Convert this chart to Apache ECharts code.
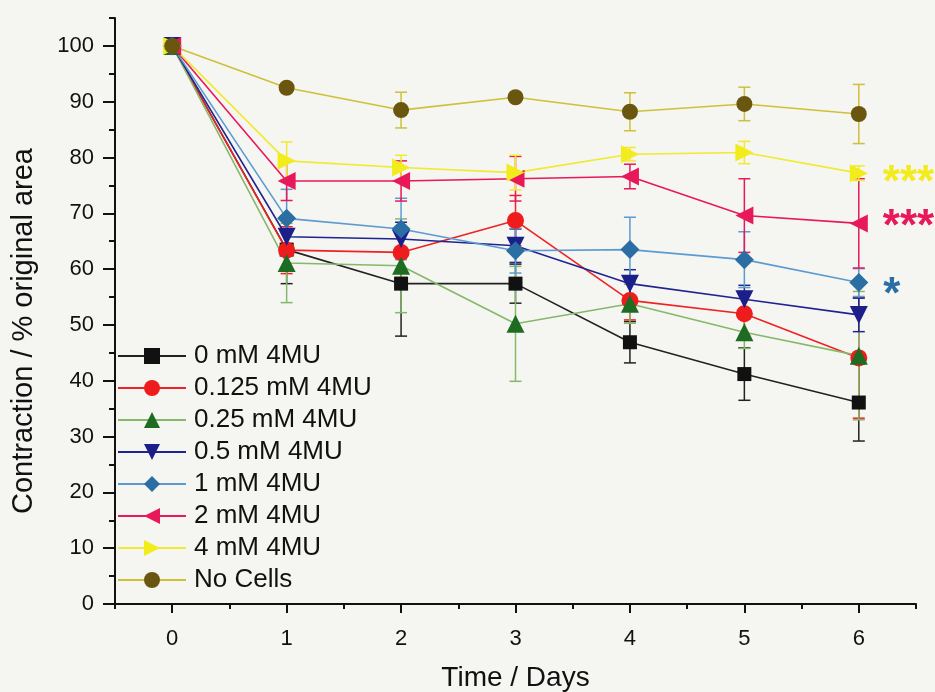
<!DOCTYPE html>
<html>
<head>
<meta charset="utf-8">
<script src="https://cdn.jsdelivr.net/npm/echarts@6/dist/echarts.min.js"></script>
<style>
html,body{margin:0;padding:0;background:#f5f5f2;}
#main{width:935px;height:692px;}
</style>
</head>
<body>
<div id="main"></div>
<script>
// ---- data ----
const days = [0, 1, 2, 3, 4, 5, 6];
const seriesNames = ['0 mM 4MU', '0.125 mM 4MU', '0.25 mM 4MU', '0.5 mM 4MU', '1 mM 4MU', '2 mM 4MU', '4 mM 4MU', 'No Cells'];
const mean0   = [100, 63.5, 57.4, 57.4, 46.9, 41.2, 36.1];
const err0    = [0, 6.1, 9.4, 3.5, 3.7, 4.7, 6.9];
const mean125 = [100, 63.4, 63.0, 68.7, 54.4, 52.0, 44.1];
const err125  = [0, 4.2, 4.5, 4.5, 3.5, 4.0, 10.8];
const mean25  = [100, 61.1, 60.6, 50.2, 53.8, 48.7, 44.5];
const err25   = [0, 7.1, 8.4, 10.3, 3.5, 2.9, 11.5];
const mean05  = [100, 65.8, 65.4, 64.2, 57.4, 54.6, 51.8];
const err05   = [0, 3.2, 3.0, 3.0, 2.5, 2.5, 3.0];
const mean1   = [100, 69.1, 67.2, 63.3, 63.5, 61.7, 57.6];
const err1    = [0, 5.2, 5.5, 4.0, 5.8, 5.0, 2.5];
const mean2   = [100, 75.8, 75.8, 76.2, 76.6, 69.6, 68.2];
const err2    = [0, 3.5, 3.6, 4.0, 2.2, 6.6, 8.0];
const mean4   = [100, 79.4, 78.2, 77.3, 80.6, 80.9, 77.2];
const err4    = [0, 3.4, 2.2, 3.1, 1.2, 2.0, 1.3];
const meanNC  = [100, 92.5, 88.5, 90.8, 88.2, 89.6, 87.8];
const errNC   = [0, 0.4, 3.2, 0.4, 3.4, 3.0, 5.3];
const yTickLabels = [0, 10, 20, 30, 40, 50, 60, 70, 80, 90, 100];
const yMinorTicks = [5, 15, 25, 35, 45, 55, 65, 75, 85, 95, 105];
const xTickLabels = [0, 1, 2, 3, 4, 5, 6];
const xMinorTicks = [-0.5, 0.5, 1.5, 2.5, 3.5, 4.5, 5.5, 6.5];
const significance = {'4 mM 4MU': '***', '2 mM 4MU': '***', '1 mM 4MU': '*'};

// ---- styles ----
const means = [mean0, mean125, mean25, mean05, mean1, mean2, mean4, meanNC];
const errs = [err0, err125, err25, err05, err1, err2, err4, errNC];
const markerColors = ['#111111', '#ee1c1c', '#1e6b22', '#1b1f8a', '#2b6ea4', '#e8195a', '#f2ec1c', '#6b5610'];
const lineColors   = ['#222222', '#ee2222', '#86b86a', '#1f2490', '#5b9bd0', '#e8195a', '#f0ea30', '#cfc03a'];
const symbols = ['rect', 'circle', 'triangle', 'triangle', 'diamond', 'triangle', 'triangle', 'circle'];
const symbolRot = [0, 0, 0, 180, 0, 90, -90, 0];
const symbolSizes = [14, 17, 18, 18, 19, 18, 18, 16];
const sigColors = {'4 mM 4MU': '#f2ec1c', '2 mM 4MU': '#e8195a', '1 mM 4MU': '#2b6ea4'};
const sigOffsets = {'4 mM 4MU': 11, '2 mM 4MU': 4, '1 mM 4MU': 13};

const FONT = 'Liberation Sans, Arial, sans-serif';
const series = [];

// error bars
seriesNames.forEach((name, i) => {
  series.push({
    type: 'custom',
    name: name + ' err',
    xAxisIndex: 0, yAxisIndex: 0,
    z: 1,
    silent: true,
    data: days.map((d, k) => [d, means[i][k], errs[i][k]]),
    renderItem: function (params, api) {
      const x = api.value(0), y = api.value(1), e = api.value(2);
      if (!e) return null;
      const top = api.coord([x, y + e]);
      const bot = api.coord([x, y - e]);
      const hw = 6;
      const st = {stroke: lineColors[i], lineWidth: 1.5};
      return {
        type: 'group',
        children: [
          {type: 'line', shape: {x1: top[0], y1: top[1], x2: bot[0], y2: bot[1]}, style: st},
          {type: 'line', shape: {x1: top[0] - hw, y1: top[1], x2: top[0] + hw, y2: top[1]}, style: st},
          {type: 'line', shape: {x1: bot[0] - hw, y1: bot[1], x2: bot[0] + hw, y2: bot[1]}, style: st}
        ]
      };
    }
  });
});

// lines with markers
seriesNames.forEach((name, i) => {
  const data = days.map((d, k) => [d, means[i][k]]);
  const s = {
    type: 'line',
    name: name,
    xAxisIndex: 0, yAxisIndex: 0,
    z: 3,
    data: data,
    symbol: symbols[i],
    symbolRotate: symbolRot[i],
    symbolSize: symbolSizes[i],
    showAllSymbol: true,
    itemStyle: {color: markerColors[i]},
    lineStyle: {color: lineColors[i], width: 1.6},
    emphasis: {disabled: true},
    animation: false
  };
  if (significance[name]) {
    const last = data.length - 1;
    s.data = data.map((p, k) => k === last ? {
      value: p,
      label: {
        show: true, position: 'right', distance: 15,
        formatter: significance[name],
        color: sigColors[name], fontSize: 44, fontWeight: 'bold', fontFamily: FONT,
        offset: [0, sigOffsets[name]]
      }
    } : p);
  }
  series.push(s);
});

const chart = echarts.init(document.getElementById('main'), null, {renderer: 'canvas'});
chart.setOption({
  backgroundColor: '#f5f5f2',
  animation: false,
  textStyle: {fontFamily: FONT},
  grid: {left: 115, right: 19, top: 18, bottom: 88, containLabel: false, outerBoundsMode: 'none'},
  legend: {
    data: seriesNames,
    orient: 'vertical',
    left: 112, top: 338,
    itemWidth: 68, itemHeight: 20,
    itemGap: 6,
    textStyle: {fontSize: 26, color: '#111', fontFamily: FONT, lineHeight: 24, padding: [0, 0, 0, 3]},
    selectedMode: false
  },
  xAxis: [{
    type: 'value', min: -0.5, max: 6.5,
    axisLine: {show: true, onZero: false, lineStyle: {color: '#111', width: 2}},
    axisTick: {show: true, length: 9, inside: false, customValues: xTickLabels, lineStyle: {color: '#111', width: 2}},
    axisLabel: {customValues: xTickLabels, fontSize: 22, color: '#111', margin: 24, fontFamily: FONT},
    splitLine: {show: false},
    name: 'Time / Days', nameLocation: 'middle', nameGap: 60,
    nameTextStyle: {fontSize: 28, color: '#111', fontFamily: FONT}
  }, {
    type: 'value', min: -0.5, max: 6.5, position: 'bottom',
    axisLine: {show: false, onZero: false},
    axisTick: {show: true, length: 5, customValues: xMinorTicks, lineStyle: {color: '#111', width: 2}},
    axisLabel: {show: false},
    splitLine: {show: false}
  }],
  yAxis: [{
    type: 'value', min: 0, max: 105,
    axisLine: {show: true, onZero: false, lineStyle: {color: '#111', width: 2}},
    axisTick: {show: true, length: 12, customValues: yTickLabels, lineStyle: {color: '#111', width: 2}},
    axisLabel: {customValues: yTickLabels, fontSize: 22, color: '#111', margin: 21, fontFamily: FONT},
    splitLine: {show: false},
    name: 'Contraction / % original area', nameLocation: 'middle', nameGap: 77, nameRotate: 90,
    nameTextStyle: {fontSize: 29, color: '#111', fontFamily: FONT, padding: [0, 40, 0, 0]}
  }, {
    type: 'value', min: 0, max: 105, position: 'left',
    axisLine: {show: false, onZero: false},
    axisTick: {show: true, length: 6, customValues: yMinorTicks, lineStyle: {color: '#111', width: 2}},
    axisLabel: {show: false},
    splitLine: {show: false}
  }],
  series: series
});
</script>
</body>
</html>
